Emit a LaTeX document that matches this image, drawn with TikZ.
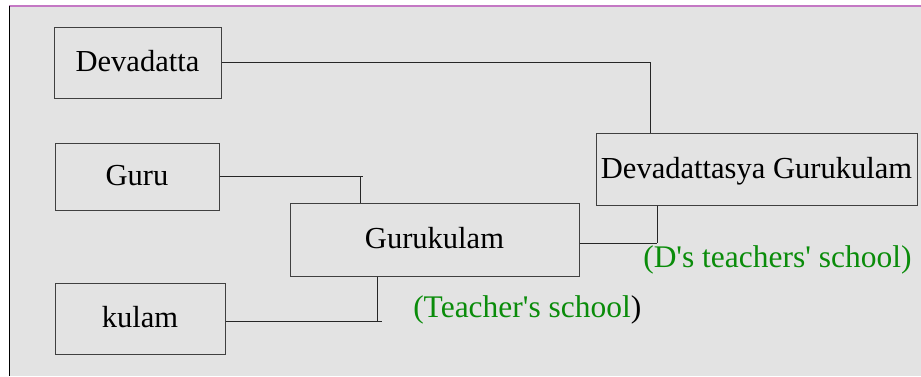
\documentclass[tikz,border=0pt]{standalone}
\usepackage{fontspec}
\setmainfont{Liberation Serif}
\definecolor{bggray}{RGB}{227,227,227}
\definecolor{rim}{RGB}{196,120,196}
\definecolor{grn}{RGB}{10,140,10}
\tikzset{word/.style={draw=black!75,line width=0.75pt,inner sep=0pt,text height=13.8pt,text depth=0pt,font=\fontsize{22.9}{27}\selectfont},
	note/.style={anchor=base west,inner sep=0pt,font=\fontsize{23.6}{28}\selectfont},
	wire/.style={draw=black!85,line width=0.75pt}}
\begin{document}
\begin{tikzpicture}[x=0.75pt,y=-0.75pt]
	\useasboundingbox (0,0) rectangle (921,376);
	\fill[bggray] (10,7) rectangle (921,376);
	\draw[rim,line width=1.5pt] (9,6) -- (921,6);
	\draw[black,line width=0.75pt] (9.5,6) -- (9.5,376);
	
	\node[word,minimum width=125.25pt,minimum height=53.25pt] at (137.5,62.5)(dev){Devadatta};
	\node[word,minimum width=123pt,minimum height=50.25pt] at (137,176.5)(guru){Guru};
	\node[word,minimum width=216.75pt,minimum height=54.75pt] at (434.5,239.5)(gk){Gurukulam};
	\node[word,minimum width=127.5pt,minimum height=53.25pt] at (140,318.5)(kul){kulam};
	\node[word,minimum width=240.75pt,minimum height=54pt] at (756.5,169)(dgk){Devadattasya Gurukulam};
	
	\coordinate (gtick) at (363,176);
	\coordinate (gdrop) at (360,176);
	\coordinate (ktick) at (382,321);
	\coordinate (kdrop) at (377,321);
	\coordinate (join) at (657,243);
	
	\path[wire](dev.east)edge[to path={-| (\tikztotarget)}](dgk.north -| 650,0);
	\path[wire](guru.east |- gtick)edge(gtick)(gk.north -| gdrop)edge(gdrop);
	\path[wire](kul.east |- ktick)edge(ktick)(gk.south -| kdrop)edge(kdrop);
	\path[wire](gk.east |- join)edge(join)(dgk.south -| join)edge(join);
	
	\node[note] at (413,317)(t1){\textcolor{grn}{(Teacher\textquotesingle s school}\textcolor{black}{)}};
	\node[note] at (643,267)(t2){\textcolor{grn}{(D\textquotesingle s teachers\textquotesingle\ school)}};
\end{tikzpicture}
\end{document}
